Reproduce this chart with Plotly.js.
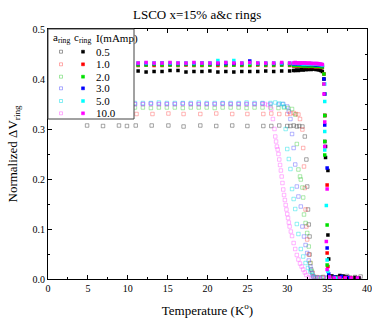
<!DOCTYPE html>
<html><head><meta charset="utf-8">
<script src="https://cdn.plot.ly/plotly-3.0.1.min.js"></script>
<style>html,body{margin:0;padding:0;background:#fff}</style>
</head><body><div id="chart" style="width:372px;height:323px"></div>
<script>
// ---- data ----
const currentLabels = ['0.5','1.0','2.0','3.0','5.0','10.0'];
const fillColors = ['#000000','#ff0000','#00e000','#0000ff','#00ffff','#ff00ff'];
const openColors = ['rgba(60,60,60,0.5)','rgba(255,60,60,0.42)','rgba(40,200,40,0.42)','rgba(60,60,255,0.42)','rgba(0,220,230,0.48)','rgba(255,60,255,0.42)'];

// c_ring shared temperatures for plateau part
const tempC = [11.3,12.3,13.3,14.3,15.3,16.3,17.3,18.3,19.3,20.3,21.3,22.3,23.3,24.3,25.3,26.3,27.3,28.3,29.3,30.3,30.8,31.0,31.2,31.4,31.6,31.8,32.0,32.2,32.4,32.6,32.8,33.0,33.2,33.4,33.6,33.8,34.0,34.2,34.4];
const cVal05 = [0.416,0.414,0.415,0.415,0.417,0.417,0.414,0.415,0.415,0.416,0.414,0.415,0.414,0.415,0.415,0.415,0.416,0.415,0.416,0.416,0.417,0.417,0.418,0.417,0.418,0.419,0.418,0.419,0.419,0.419,0.420,0.419,0.420,0.420,0.419,0.419,0.418,0.417,0.415];
const cVal10 = [0.427,0.428,0.427,0.427,0.428,0.427,0.428,0.427,0.427,0.428,0.427,0.427,0.428,0.427,0.427,0.428,0.427,0.427,0.428,0.427,0.426,0.427,0.426,0.426,0.427,0.426,0.426,0.425,0.426,0.425,0.425,0.426,0.425,0.425,0.424,0.425,0.424,0.424,0.423];
const cVal20 = [0.428,0.428,0.429,0.428,0.428,0.428,0.429,0.428,0.428,0.428,0.429,0.428,0.428,0.428,0.428,0.429,0.428,0.428,0.428,0.428,0.427,0.427,0.428,0.427,0.427,0.427,0.426,0.427,0.426,0.426,0.426,0.427,0.426,0.426,0.425,0.426,0.425,0.425,0.424];
const cVal30 = [0.431,0.431,0.431,0.432,0.431,0.431,0.431,0.431,0.432,0.431,0.431,0.431,0.431,0.431,0.436,0.431,0.431,0.431,0.431,0.431,0.430,0.431,0.430,0.430,0.430,0.430,0.429,0.430,0.429,0.429,0.429,0.430,0.429,0.429,0.428,0.429,0.428,0.428,0.427];
const cVal50 = [0.432,0.432,0.432,0.432,0.432,0.432,0.432,0.432,0.432,0.432,0.437,0.433,0.437,0.432,0.432,0.432,0.432,0.432,0.432,0.432,0.431,0.432,0.431,0.431,0.431,0.431,0.430,0.431,0.430,0.430,0.430,0.431,0.430,0.430,0.430,0.430,0.429,0.429,0.428];
const cVal100 = [0.432,0.433,0.432,0.432,0.433,0.432,0.432,0.433,0.432,0.432,0.432,0.433,0.432,0.432,0.433,0.432,0.432,0.432,0.433,0.432,0.432,0.433,0.432,0.432,0.432,0.432,0.432,0.432,0.432,0.431,0.432,0.431,0.431,0.431,0.431,0.431,0.430,0.430,0.429];
// c_ring transition + tail
const cDropT05 = [34.6,34.7,34.7,34.8,34.8,35.1,35.1,35.2,35.6,36.1,36.6,37.0,37.4,37.9,38.5,39.0];
const cDropV05 = [0.400,0.327,0.275,0.265,0.243,0.217,0.088,0.040,0.006,0.004,0.007,0.006,0.004,0.003,0.003,0.002];
const cDropT10 = [34.6,34.7,35.0,35.0,35.1,35.3,35.8,36.5,37.2,38.0];
const cDropV10 = [0.410,0.327,0.188,0.052,0.025,0.004,0.003,0.002,0.002,0.002];
const cDropT20 = [34.6,34.6,34.7,34.7,34.7,34.7,35.0,35.0,35.2,35.9,36.7];
const cDropV20 = [0.410,0.390,0.370,0.327,0.275,0.248,0.108,0.028,0.004,0.003,0.002];
const cDropT30 = [34.6,34.7,34.7,35.0,35.0,35.2,35.9,36.8,37.6];
const cDropV30 = [0.400,0.370,0.308,0.222,0.062,0.010,0.004,0.005,0.003];
const cDropT50 = [34.7,34.7,34.7,34.7,34.9,35.0,35.1,35.3,36.1];
const cDropV50 = [0.390,0.355,0.295,0.258,0.147,0.038,0.015,0.003,0.002];
const cDropT100 = [34.6,34.6,34.7,34.7,35.0,34.9,35.0,35.3,35.9,36.6,37.3,38.0,38.8];
const cDropV100 = [0.390,0.370,0.314,0.265,0.180,0.075,0.019,0.004,0.002,0.002,0.002,0.002,0.002];

// a_ring series
const aT05 = [4.9,6.9,8.9,9.9,11.0,13.0,15.1,17.0,19.1,21.1,23.1,25.0,27.0,28.0,29.0,30.0,30.4,30.8,31.2,31.5,31.9,32.2,32.4,32.5,32.6,32.7,32.8,32.8,33.0,33.3,33.8,34.5,35.5,36.5,37.5,38.5,39.2];
const aV05 = [0.307,0.306,0.307,0.306,0.307,0.307,0.307,0.305,0.307,0.306,0.307,0.306,0.306,0.306,0.307,0.306,0.306,0.307,0.305,0.306,0.305,0.285,0.239,0.185,0.139,0.109,0.085,0.049,0.019,0.005,0.003,0.004,0.005,0.004,0.006,0.004,0.005];
const aT10 = [11.1,13.1,15.1,17.0,19.1,21.1,23.1,25.0,27.0,28.0,29.0,30.0,30.4,30.8,31.1,31.4,31.6,31.9,32.0,32.1,32.2,32.3,32.4,32.5,32.7,32.9,33.2,33.7,34.5,35.5,36.5,37.5];
const aV10 = [0.330,0.330,0.331,0.330,0.330,0.331,0.330,0.330,0.330,0.331,0.330,0.330,0.331,0.332,0.330,0.329,0.320,0.299,0.262,0.225,0.182,0.139,0.105,0.079,0.049,0.032,0.012,0.004,0.003,0.003,0.002,0.003];
const aT20 = [10.9,11.9,12.9,13.9,14.9,15.9,16.9,17.9,18.9,19.9,20.9,21.9,22.9,23.9,24.9,25.9,26.9,27.9,28.9,29.6,30.1,30.6,31.0,31.2,31.4,31.6,31.7,31.9,32.0,32.1,32.3,32.5,32.7,32.9,33.1,33.5,34.3,35.2,36.2];
const aV20 = [0.343,0.343,0.342,0.343,0.343,0.343,0.342,0.343,0.343,0.343,0.342,0.343,0.343,0.343,0.342,0.343,0.343,0.343,0.342,0.343,0.342,0.340,0.329,0.270,0.219,0.205,0.199,0.183,0.163,0.129,0.112,0.092,0.065,0.032,0.015,0.003,0.003,0.003,0.002];
const aT30 = [10.9,11.9,12.9,13.9,14.9,15.9,16.9,17.9,18.9,19.9,20.9,21.9,22.9,23.9,24.9,25.9,26.9,27.9,28.9,29.5,30.0,30.2,30.4,30.6,30.8,31.0,31.2,31.4,31.7,31.9,32.1,32.3,32.5,32.7,32.9,33.1,33.3,34.0,35.0,36.0];
const aV30 = [0.350,0.350,0.351,0.350,0.350,0.350,0.351,0.350,0.350,0.350,0.350,0.351,0.350,0.350,0.350,0.350,0.351,0.350,0.349,0.350,0.345,0.335,0.320,0.290,0.262,0.229,0.185,0.165,0.145,0.105,0.085,0.068,0.052,0.037,0.025,0.012,0.003,0.003,0.003,0.002];
const aT50 = [10.9,11.9,12.9,13.9,14.9,15.9,16.9,17.9,18.9,19.9,20.9,21.9,22.9,23.9,24.9,25.9,26.9,27.9,28.5,29.0,29.4,29.6,29.8,30.0,30.2,30.4,30.6,30.8,31.0,31.2,31.4,31.7,32.0,32.3,32.6,32.9,33.2,33.5,34.2,35.0];
const aV50 = [0.352,0.352,0.352,0.353,0.352,0.352,0.352,0.352,0.353,0.352,0.352,0.352,0.352,0.352,0.353,0.352,0.352,0.352,0.353,0.351,0.350,0.345,0.300,0.260,0.240,0.220,0.180,0.160,0.140,0.110,0.090,0.060,0.045,0.032,0.022,0.015,0.008,0.003,0.002,0.002];
const aT100 = [10.9,11.9,12.9,13.9,14.9,15.9,16.9,17.9,18.9,19.9,20.9,21.9,22.9,23.9,24.9,25.9,26.9,27.2,27.6,28.0,28.2,28.4,28.5,28.6,28.7,28.8,28.9,29.0,29.1,29.2,29.3,29.4,29.5,29.6,29.7,29.8,29.9,30.0,30.1,30.2,30.3,30.45,30.6,30.8,31.0,31.2,31.4,31.6,31.8,32.0,32.2,32.4,32.7,33.0,33.5,34.0,34.5,35.0,35.5,36.0,37.0,38.0,39.0];
const aV100 = [0.350,0.350,0.350,0.350,0.350,0.350,0.350,0.350,0.350,0.350,0.350,0.350,0.350,0.350,0.350,0.350,0.350,0.350,0.348,0.340,0.320,0.300,0.285,0.275,0.265,0.259,0.250,0.239,0.228,0.217,0.205,0.192,0.179,0.168,0.158,0.148,0.139,0.130,0.122,0.113,0.105,0.095,0.086,0.072,0.060,0.048,0.039,0.031,0.025,0.019,0.013,0.008,0.003,0.002,0.002,0.002,0.002,0.002,0.002,0.002,0.002,0.002,0.002];

// ---- build ----
const aTemps = [aT05,aT10,aT20,aT30,aT50,aT100];
const aVals = [aV05,aV10,aV20,aV30,aV50,aV100];
const cVals = [cVal05,cVal10,cVal20,cVal30,cVal50,cVal100];
const cDT = [cDropT05,cDropT10,cDropT20,cDropT30,cDropT50,cDropT100];
const cDV = [cDropV05,cDropV10,cDropV20,cDropV30,cDropV50,cDropV100];

const traces = [];
for (let i=0;i<6;i++){
  traces.push({x:aTemps[i], y:aVals[i], type:'scatter', mode:'markers', showlegend:false, hoverinfo:'skip',
    marker:{symbol:'square-open', size:3.5, color:openColors[i], line:{width:0.9, color:openColors[i]}}});
}
for (let i=0;i<6;i++){
  traces.push({x:tempC.concat(cDT[i]), y:cVals[i].concat(cDV[i]), type:'scatter', mode:'markers', showlegend:false, hoverinfo:'skip',
    marker:{symbol:'square', size:3.5, color:fillColors[i], line:{width:0}}});
}

// plot area in pixels
const L=48, T=29, W=319, H=250;
const px = v => (v-L)/W;
const py = v => (T+H-v)/H;
const serif = 'Liberation Serif, Times New Roman, serif';

const shapes = [{type:'rect', xref:'paper', yref:'paper', x0:px(48), x1:px(134), y0:py(119), y1:py(29),
  fillcolor:'#ffffff', line:{color:'#444', width:1}, layer:'above'}];
const annotations = [
  {xref:'paper', yref:'paper', x:px(61.5), y:py(38), text:'a<sub>ring</sub>', showarrow:false, xanchor:'center', yanchor:'middle', font:{family:serif, size:11, color:'#000'}},
  {xref:'paper', yref:'paper', x:px(82.5), y:py(38), text:'c<sub>ring</sub>', showarrow:false, xanchor:'center', yanchor:'middle', font:{family:serif, size:11, color:'#000'}},
  {xref:'paper', yref:'paper', x:px(93.5), y:py(38), text:'I(mAmp)', showarrow:false, xanchor:'left', yanchor:'middle', font:{family:serif, size:11, color:'#000'}}
];
const rowY = [51.7,64.3,76.7,88.3,101,113.3];
for (let i=0;i<6;i++){
  const yy = rowY[i];
  shapes.push({type:'rect', xref:'paper', yref:'paper', x0:px(59.5), x1:px(62.5), y0:py(yy+1.5), y1:py(yy-1.5),
    fillcolor:'rgba(0,0,0,0)', line:{color:openColors[i], width:1}, layer:'above'});
  shapes.push({type:'rect', xref:'paper', yref:'paper', x0:px(81.5), x1:px(84.5), y0:py(yy+1.5), y1:py(yy-1.5),
    fillcolor:fillColors[i], line:{color:fillColors[i], width:0.5}, layer:'above'});
  annotations.push({xref:'paper', yref:'paper', x:px(93.5), y:py(yy), text:currentLabels[i], showarrow:false, xanchor:'left', yanchor:'middle', font:{family:serif, size:11, color:'#000'}});
}

const axisCommon = {showline:true, linecolor:'#000', linewidth:1, mirror:'allticks', ticks:'inside', ticklen:4, tickwidth:1, tickcolor:'#000',
  showgrid:false, zeroline:false, tickfont:{family:serif, size:10, color:'#000'}};

const layout = {
  width:372, height:323, margin:{l:L, r:372-L-W, t:T, b:323-T-H},
  paper_bgcolor:'#fff', plot_bgcolor:'#fff', showlegend:false,
  title:{text:'LSCO x=15% a&c rings', font:{family:serif, size:13, color:'#000'}, x:0.53, xref:'container', xanchor:'center', y:1-14/323, yanchor:'middle'},
  xaxis:Object.assign({}, axisCommon, {range:[0,40], dtick:5, tick0:0,
    minor:{dtick:2.5, ticks:'inside', ticklen:2, tickcolor:'#000'},
    title:{text:'Temperature (K<sup>o</sup>)', font:{family:serif, size:13, color:'#000'}, standoff:12}}),
  yaxis:Object.assign({}, axisCommon, {range:[0,0.5], dtick:0.1, tick0:0, tickformat:'.1f',
    minor:{dtick:0.05, ticks:'inside', ticklen:2, tickcolor:'#000'},
    title:{text:'Normalized ΔV<sub>ring</sub>', font:{family:serif, size:13, color:'#000'}, standoff:11}}),
  shapes:shapes, annotations:annotations
};

Plotly.newPlot('chart', traces, layout, {displayModeBar:false, staticPlot:true});
</script></body></html>
